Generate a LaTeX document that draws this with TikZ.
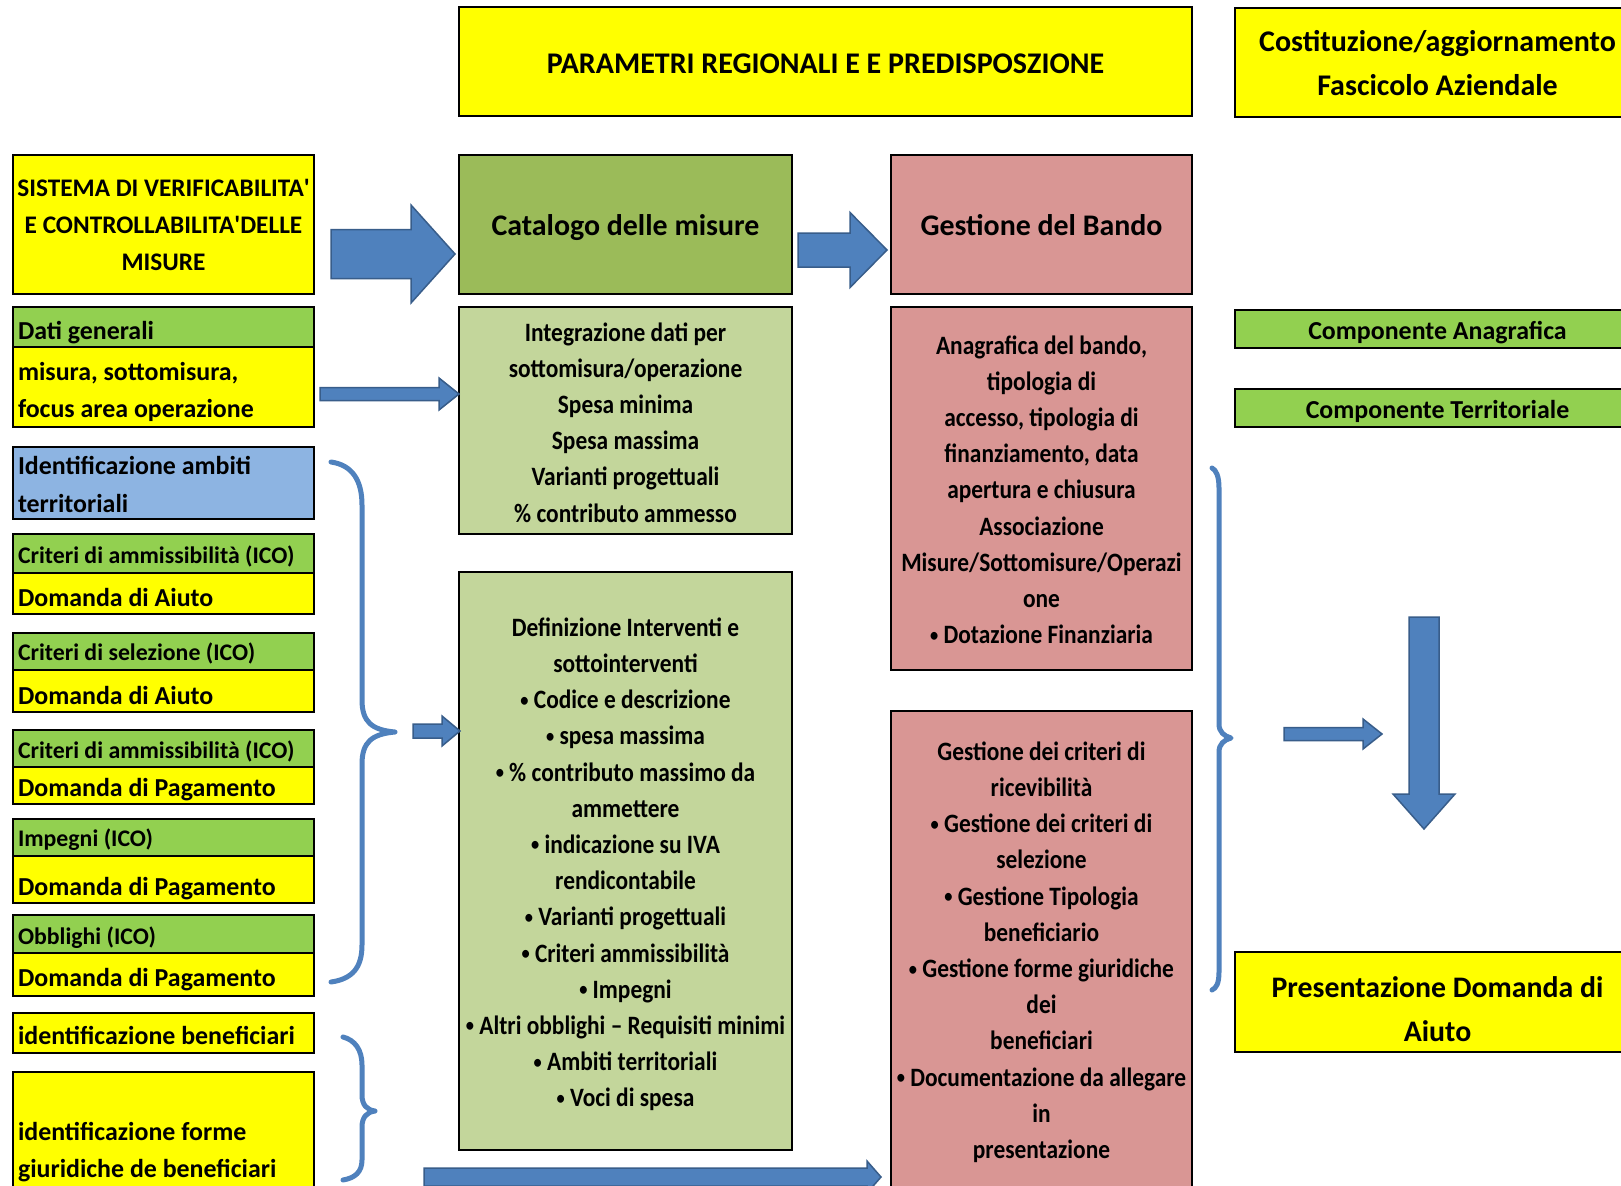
\documentclass[tikz,border=0pt]{standalone}
\usepackage{fontspec}
\setmainfont{Carlito}
\newfontfamily\condfont{Carlito}[FakeStretch=0.883]
\usetikzlibrary{calc}
\definecolor{yel}{HTML}{FFFF00}
\definecolor{grn}{HTML}{92D050}
\definecolor{olive}{HTML}{9BBB59}
\definecolor{lgrn}{HTML}{C3D69B}
\definecolor{pnk}{HTML}{D99694}
\definecolor{lblue}{HTML}{8DB4E2}
\definecolor{arrfill}{HTML}{4F81BD}
\definecolor{arrline}{HTML}{385D8A}
% strut: height #1, depth #2
\newcommand{\sr}[2]{\rule[-#2pt]{0pt}{\dimexpr #1pt + #2pt\relax}}
\newcommand{\bu}{\raisebox{2.5pt}{\scalebox{0.7}{•}}}
\tikzset{
  box/.style={draw=black, line width=2.5pt, inner sep=0pt, outer sep=0pt, anchor=north west},
  lft/.style={box, inner xsep=5pt, text width=291pt, align=flush left, font=\bfseries\fontsize{25.9}{37.2}\selectfont},
  lftico/.style={lft, font=\bfseries\fontsize{23.8}{37}\selectfont},
  head/.style={box, align=flush center, font=\bfseries\fontsize{29.9}{44.4}\selectfont},
  body/.style={box, align=flush center, font=\condfont\bfseries\fontsize{26.5}{36.2}\selectfont},
  blockarrow/.style={fill=arrfill, draw=arrline, line width=1.5pt, line join=miter},
  brace/.style={draw=arrfill, line width=5pt, line cap=round, line join=round}
}
\newcommand{\harrow}[5]{\filldraw[blockarrow] ($(#1)+(0,-#3)$) -- ($(#2)+(-#5,-#3)$) -- ($(#2)+(-#5,-#4)$) -- (#2) -- ($(#2)+(-#5,#4)$) -- ($(#2)+(-#5,#3)$) -- ($(#1)+(0,#3)$) -- cycle;}
\begin{document}
\begin{tikzpicture}[x=1pt,y=-1pt]
\clip (0,0) rectangle (1621,1185);
\fill[white] (0,0) rectangle (1621,1185);
% top row
\node[head, fill=yel, minimum width=733pt, minimum height=109pt, font=\bfseries\fontsize{30}{44.4}\selectfont] (title) at (459,7) {\sr{27}{2}PARAMETRI REGIONALI E E PREDISPOSZIONE};
\node[head, fill=yel, minimum width=405pt, minimum height=109pt, font=\bfseries\fontsize{30}{44.4}\selectfont] (fasc) at (1235,8) {\sr{30}{0}Costituzione/aggiornamento\\Fascicolo Aziendale\sr{0}{7.8}};
% second row
\node[head, fill=yel, minimum width=301pt, minimum height=139pt, font=\bfseries\fontsize{25.3}{37.2}\selectfont] (sistema) at (13,155) {\sr{25}{0}SISTEMA DI VERIFICABILITA\textquotesingle\\E CONTROLLABILITA\textquotesingle DELLE\\MISURE\sr{0}{6.6}};
\node[head, fill=olive, minimum width=333pt, minimum height=139pt] (catalogo) at (459,155) {\sr{31}{9}Catalogo delle misure};
\node[head, fill=pnk, minimum width=301pt, minimum height=139pt] (gestione) at (891,155) {\sr{31}{9}Gestione del Bando};
% left column
\node[lft, fill=grn, minimum height=40pt] (dati) at (13,307) {\sr{31}{6.2}Dati generali};
\node[lft, fill=yel, minimum height=80pt] (misura) at (13,347) {\sr{30}{0}misura, sottomisura,\\focus area operazione\sr{0}{6.2}};
\node[lft, fill=lblue, minimum height=72pt] (ident) at (13,447) {\sr{27}{0}Identificazione ambiti\\territoriali\sr{0}{6.2}};
\node[lftico, fill=grn, minimum height=39pt] (c1) at (13,534) {\sr{26}{7}Criteri di ammissibilità (ICO)};
\node[lft, fill=yel, minimum height=41pt] (d1) at (13,573) {\sr{31}{6}Domanda di Aiuto};
\node[lftico, fill=grn, minimum height=37pt] (c2) at (13,633) {\sr{25}{7}Criteri di selezione (ICO)};
\node[lft, fill=yel, minimum height=42pt] (d2) at (13,670) {\sr{32}{6}Domanda di Aiuto};
\node[lftico, fill=grn, minimum height=37pt] (c3) at (13,730) {\sr{27}{7}Criteri di ammissibilità (ICO)};
\node[lft, fill=yel, minimum height=37pt] (d3) at (13,767) {\sr{28}{6}Domanda di Pagamento};
\node[lftico, fill=grn, minimum height=37pt] (imp) at (13,819) {\sr{25}{7}Impegni (ICO)};
\node[lft, fill=yel, minimum height=47pt] (d4) at (13,856) {\sr{37}{5.8}Domanda di Pagamento};
\node[lftico, fill=grn, minimum height=38pt] (obb) at (13,915) {\sr{27}{7}Obblighi (ICO)};
\node[lft, fill=yel, minimum height=43pt] (d5) at (13,953) {\sr{29}{6}Domanda di Pagamento};
\node[lft, fill=yel, minimum height=40pt] (benef) at (13,1013) {\sr{28}{6}identificazione beneficiari};
\node[lft, fill=yel, minimum height=149.6pt] (forme) at (13,1072) {\sr{31}{0}identificazione forme\\giuridiche de beneficiari\sr{0}{6.2}};
% middle column
\node[body, fill=lgrn, minimum width=333pt, minimum height=227pt] (integ) at (459,307) {\sr{29}{0}Integrazione dati per\\sottomisura/operazione\\Spesa minima\\Spesa massima\\Varianti progettuali\\\% contributo ammesso\sr{0}{6.8}};
\node[body, fill=lgrn, minimum width=333pt, minimum height=578pt] (defin) at (459,572) {\sr{29}{0}Definizione Interventi e\\sottointerventi\\\bu{} Codice e descrizione\\\bu{} spesa massima\\\bu{} \% contributo massimo da\\ammettere\\\bu{} indicazione su IVA\\rendicontabile\\\bu{} Varianti progettuali\\\bu{} Criteri ammissibilità\\\bu{} Impegni\\\bu{} Altri obblighi – Requisiti minimi\\\bu{} Ambiti territoriali\\\bu{} Voci di spesa\sr{0}{8}};
\node[body, fill=pnk, minimum width=301pt, minimum height=363pt] (pink1) at (891,307) {\sr{29}{0}Anagrafica del bando,\\tipologia di\\accesso, tipologia di\\finanziamento, data\\apertura e chiusura\\Associazione\\Misure/Sottomisure/Operazi\\one\\\bu{} Dotazione Finanziaria\sr{0}{8.4}};
\node[body, fill=pnk, minimum width=301pt, minimum height=480pt] (pink2) at (891,711) {\sr{29}{0}Gestione dei criteri di\\ricevibilità\\\bu{} Gestione dei criteri di\\selezione\\\bu{} Gestione Tipologia\\beneficiario\\\bu{} Gestione forme giuridiche\\dei\\beneficiari\\\bu{} Documentazione da allegare\\in\\presentazione\sr{0}{12.2}};
% right column
\node[head, fill=grn, minimum width=405pt, minimum height=38pt, font=\bfseries\fontsize{25.9}{37}\selectfont] (anag) at (1235,310) {\sr{29}{7.5}Componente Anagrafica};
\node[head, fill=grn, minimum width=405pt, minimum height=38pt, font=\bfseries\fontsize{25.9}{37}\selectfont] (terr) at (1235,389) {\sr{28}{7.5}Componente Territoriale};
\node[head, fill=yel, minimum width=405pt, minimum height=100pt, font=\bfseries\fontsize{29.8}{44.4}\selectfont] (pres) at (1235,952) {\sr{42}{0}Presentazione Domanda di\\Aiuto\sr{0}{6.8}};
% block arrows
\coordinate (a1s) at (331,254); \coordinate (a1t) at (455,254);
\coordinate (a2s) at (798,250); \coordinate (a2t) at (887,250);
\coordinate (a3s) at (320,394); \coordinate (a3t) at (459,394);
\coordinate (a4s) at (413,731); \coordinate (a4t) at (460,731);
\coordinate (a5s) at (424,1177); \coordinate (a5t) at (881,1177);
\coordinate (a6s) at (1284,734); \coordinate (a6t) at (1382,734);
\harrow{a1s}{a1t}{24.5}{49}{44}
\harrow{a2s}{a2t}{17}{37.5}{37}
\harrow{a3s}{a3t}{6.5}{16}{20}
\harrow{a4s}{a4t}{7}{15}{18}
\harrow{a5s}{a5t}{9}{16}{14}
\harrow{a6s}{a6t}{6.5}{15}{19}
\coordinate (da1) at (1424,617); \coordinate (da2) at (1424,829);
\filldraw[blockarrow] ($(da1)+(-15,0)$) -- ($(da2)+(-15,-35)$) -- ($(da2)+(-31,-35)$) -- (da2) -- ($(da2)+(31,-35)$) -- ($(da2)+(15,-35)$) -- ($(da1)+(15,0)$) -- cycle;
% braces
\draw[brace] (331,462) .. controls (352,465) and (362,480) .. (362,505) -- (362,700) .. controls (362,722) and (372,730) .. (395,732) .. controls (372,734) and (362,742) .. (362,764) -- (362,945) .. controls (362,968) and (352,979) .. (331,982);
\draw[brace] (343,1037) .. controls (355,1040) and (362,1050) .. (362,1065) -- (362,1095) .. controls (362,1105) and (367,1110) .. (375,1111) .. controls (367,1112) and (362,1117) .. (362,1127) -- (362,1160) .. controls (362,1172) and (355,1178) .. (343,1180);
\draw[brace] (1212,468) .. controls (1216,470) and (1219,476) .. (1219,488) -- (1219,724) .. controls (1219,732) and (1224,736) .. (1231,738) .. controls (1224,740) and (1219,744) .. (1219,752) -- (1219,972) .. controls (1219,984) and (1216,988) .. (1212,990);
\end{tikzpicture}
\end{document}
